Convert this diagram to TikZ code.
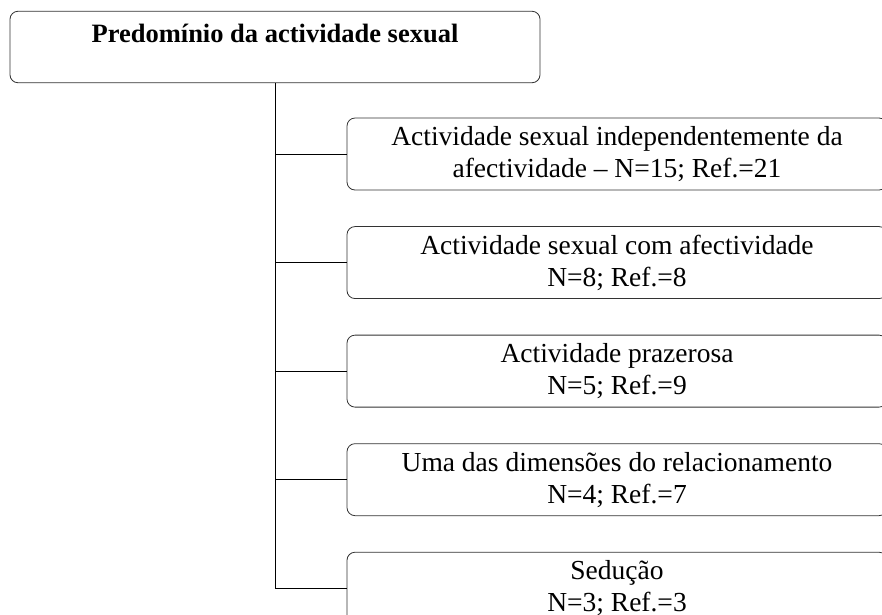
\documentclass[tikz,border=0pt]{standalone}
\usepackage{fontspec}
\setmainfont{Liberation Serif}
\usetikzlibrary{positioning}

\begin{document}
\begin{tikzpicture}[
      x=1pt,y=-1pt,
      node distance=35.75pt,
      box/.style={draw=black!80,rounded corners=8pt,line width=0.8pt,align=center,
        font=\fontsize{27.5}{32}\selectfont,inner sep=0pt},
      topbox/.style={box,minimum width=530pt,text height=31.5pt,text depth=40pt,
        font=\fontsize{26.5}{32}\selectfont\bfseries},
      itembox/.style={box,minimum width=540pt,minimum height=72pt},
      link/.style={line width=0.8pt},
    ]
    \useasboundingbox (0,0) rectangle (882,614);
    \node (root) [topbox] at (275,47) {Predomínio da actividade sexual};
    %
    \node (sexind) [itembox] at (617,154) {Actividade sexual independentemente da\\afectividade -- N=15; Ref.=21};
    \node (sexafe) [itembox,below=of sexind] {Actividade sexual com afectividade\\N=8; Ref.=8};
    \node (prazer) [itembox,below=of sexafe] {Actividade prazerosa\\N=5; Ref.=9};
    \node (relac) [itembox,below=of prazer] {Uma das dimensões do relacionamento\\N=4; Ref.=7};
    \node (seduc) [itembox,below=of relac] {Sedução\\N=3; Ref.=3};
    %
    \draw [link] (root.south) |- (seduc.west);
    \draw [link] (root.south |- sexind.west) -- (sexind.west);
    \draw [link] (root.south |- sexafe.west) -- (sexafe.west);
    \draw [link] (root.south |- prazer.west) -- (prazer.west);
    \draw [link] (root.south |- relac.west) -- (relac.west);
    %
\end{tikzpicture}
\end{document}
